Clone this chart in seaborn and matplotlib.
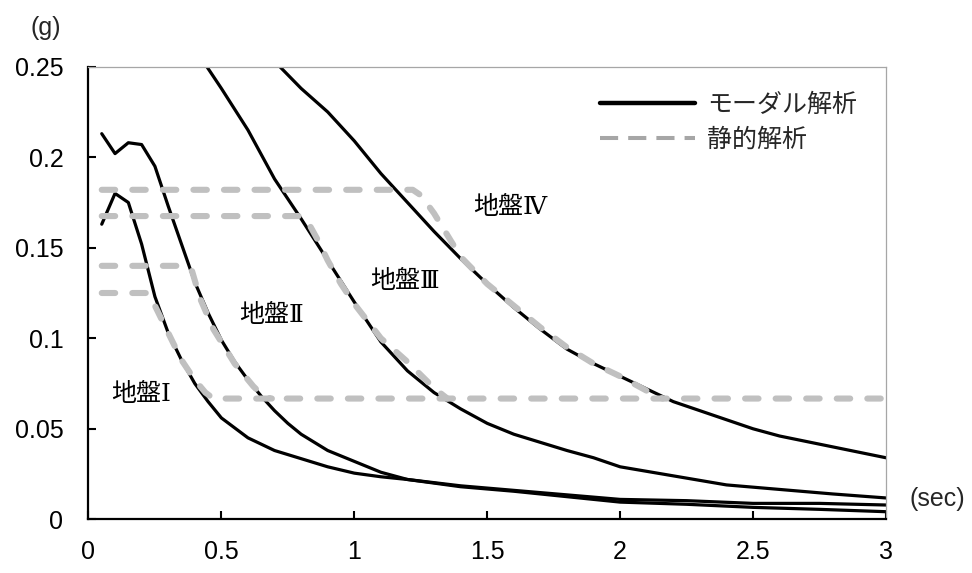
import numpy as np
import pandas as pd
import matplotlib
matplotlib.use("Agg")
import matplotlib.pyplot as plt
from matplotlib.lines import Line2D
import seaborn as sns

# ---- data (period T [sec], response acceleration [g]) ----
ground_labels = ["地盤Ⅰ", "地盤Ⅱ", "地盤Ⅲ", "地盤Ⅳ"]

modal_T_I = [0.05, 0.1, 0.15, 0.2, 0.25, 0.3, 0.35, 0.4, 0.45, 0.5, 0.6, 0.7, 0.8, 0.9, 1.0,
             1.1, 1.2, 1.4, 1.6, 1.8, 2.0, 2.25, 2.5, 2.75, 3.0]
modal_A_I = [0.163, 0.180, 0.175, 0.152, 0.123, 0.103, 0.088, 0.075, 0.065, 0.056, 0.045, 0.038,
             0.0335, 0.029, 0.0255, 0.0235, 0.022, 0.018, 0.0155, 0.0125, 0.0095, 0.0083, 0.0066,
             0.0055, 0.0042]

modal_T_II = [0.05, 0.1, 0.15, 0.2, 0.25, 0.3, 0.35, 0.4, 0.45, 0.5, 0.55, 0.6, 0.65, 0.7, 0.75,
              0.8, 0.9, 1.0, 1.1, 1.2, 1.4, 1.6, 1.8, 2.0, 2.25, 2.5, 2.75, 3.0]
modal_A_II = [0.213, 0.202, 0.208, 0.207, 0.195, 0.173, 0.152, 0.131, 0.114, 0.099, 0.087, 0.077,
              0.068, 0.060, 0.053, 0.047, 0.038, 0.032, 0.026, 0.022, 0.0185, 0.016, 0.0135, 0.011,
              0.0103, 0.0088, 0.0088, 0.0079]

modal_T_III = [0.4, 0.5, 0.6, 0.7, 0.8, 0.9, 1.0, 1.1, 1.2, 1.3, 1.4, 1.5, 1.6, 1.7, 1.8, 1.9,
               2.0, 2.2, 2.4, 2.6, 2.8, 3.0]
modal_A_III = [0.260, 0.238, 0.215, 0.188, 0.166, 0.143, 0.120, 0.098, 0.082, 0.070, 0.061, 0.053,
               0.047, 0.0425, 0.038, 0.034, 0.029, 0.024, 0.019, 0.0165, 0.014, 0.0118]

modal_T_IV = [0.7, 0.8, 0.9, 1.0, 1.1, 1.2, 1.3, 1.4, 1.5, 1.6, 1.7, 1.8, 1.9, 2.0, 2.1, 2.2,
              2.3, 2.4, 2.5, 2.6, 2.7, 2.8, 2.9, 3.0]
modal_A_IV = [0.253, 0.238, 0.225, 0.209, 0.191, 0.175, 0.159, 0.144, 0.130, 0.117, 0.105, 0.094,
              0.086, 0.079, 0.072, 0.065, 0.060, 0.055, 0.050, 0.046, 0.043, 0.040, 0.037, 0.034]

static_T_I = [0.05, 0.22, 0.25, 0.3, 0.35, 0.4, 0.44, 0.47, 3.0]
static_A_I = [0.125, 0.125, 0.118, 0.103, 0.088, 0.077, 0.070, 0.0667, 0.0667]

static_T_II = [0.05, 0.36, 0.39, 0.42, 0.47, 0.55, 0.62, 0.66, 0.69]
static_A_II = [0.14, 0.14, 0.137, 0.122, 0.105, 0.086, 0.0735, 0.0677, 0.0667]

static_T_III = [0.05, 0.8, 0.83, 0.86, 0.9, 0.95, 1.0, 1.1, 1.2, 1.3, 1.35]
static_A_III = [0.1675, 0.1675, 0.163, 0.155, 0.143, 0.130, 0.119, 0.100, 0.087, 0.0725, 0.0667]

static_T_IV = [0.05, 1.22, 1.25, 1.3, 1.35, 1.4, 1.5, 1.6, 1.7, 1.8, 1.9, 2.0, 2.1, 2.16]
static_A_IV = [0.182, 0.182, 0.179, 0.169, 0.157, 0.145, 0.130, 0.118, 0.106, 0.095, 0.086,
               0.079, 0.071, 0.0667]

legend_labels = ["モーダル解析", "静的解析"]
x_ticks = [0, 0.5, 1, 1.5, 2, 2.5, 3]
x_tick_labels = ["0", "0.5", "1", "1.5", "2", "2.5", "3"]
y_ticks = [0, 0.05, 0.1, 0.15, 0.2, 0.25]
y_tick_labels = ["0", "0.05", "0.1", "0.15", "0.2", "0.25"]

# ---- build long-form tables ----
def long_table(pairs):
    frames = []
    for lab, (t, a) in zip(ground_labels, pairs):
        frames.append(pd.DataFrame({"T": t, "A": a, "ground": lab}))
    return pd.concat(frames, ignore_index=True)

modal_df = long_table([(modal_T_I, modal_A_I), (modal_T_II, modal_A_II),
                       (modal_T_III, modal_A_III), (modal_T_IV, modal_A_IV)])
static_df = long_table([(static_T_I, static_A_I), (static_T_II, static_A_II),
                        (static_T_III, static_A_III), (static_T_IV, static_A_IV)])

# ---- style ----
sns.set_theme(style="white")
plt.rcParams["font.family"] = ["Liberation Sans", "Noto Sans CJK JP", "DejaVu Sans"]
JP = ["Noto Sans CJK JP", "DejaVu Sans"]
JP_SERIF_NUM = ["DejaVu Serif", "Noto Sans CJK JP"]
FS = 18

fig = plt.figure(figsize=(9.72, 5.73), dpi=100)
ax = fig.add_axes([0.0910, 0.0937, 0.8205, 0.7899])

sns.lineplot(data=modal_df, x="T", y="A", units="ground", estimator=None, sort=False,
             color="black", linewidth=2.3, ax=ax, legend=False)
sns.lineplot(data=static_df, x="T", y="A", units="ground", estimator=None, sort=False,
             color="#c0c0c0", linewidth=4.4, linestyle=(0, (2.2, 2.8)),
             dash_capstyle="round", ax=ax, legend=False)

ax.set_xlim(0, 3)
ax.set_ylim(0, 0.25)
ax.set_xticks(x_ticks)
ax.set_xticklabels(x_tick_labels)
ax.set_yticks(y_ticks)
ax.set_yticklabels(y_tick_labels)
ax.set_xlabel("")
ax.set_ylabel("")
ax.tick_params(axis="both", direction="in", length=6, width=1.5, color="black",
               labelsize=FS, labelcolor="black")
ax.tick_params(axis="y", pad=18, left=True)
ax.tick_params(axis="x", pad=15, bottom=True)

for side in ["left", "bottom"]:
    ax.spines[side].set_color("black")
    ax.spines[side].set_linewidth(1.6)
for side in ["top", "right"]:
    ax.spines[side].set_visible(True)
    ax.spines[side].set_color("#a6a6a6")
    ax.spines[side].set_linewidth(0.9)

# ground labels
label_pos = [(0.199, 0.0687), (0.690, 0.1128), (1.191, 0.1316), (1.586, 0.172)]
for lab, (lx, ly) in zip(ground_labels, label_pos):
    ax.text(lx, ly, lab, ha="center", va="center", fontsize=FS, family=JP_SERIF_NUM,
            color="black")

# legend
handles = [Line2D([0], [0], color="black", linewidth=3.2),
           Line2D([0], [0], color="#a6a6a6", linewidth=2.9, linestyle=(0, (4.5, 2.5)))]
leg = ax.legend(handles, legend_labels, loc="upper left", bbox_to_anchor=(0.641, 0.945),
                frameon=False, borderpad=0, borderaxespad=0, handlelength=3.8,
                handletextpad=0.5, labelspacing=0.35, prop={"family": JP, "size": FS})

fig.text(0.0473, 0.951, "(g)", ha="center", va="center", fontsize=FS)
fig.text(0.9645, 0.129, "(sec)", ha="center", va="center", fontsize=FS)

fig.savefig("out.png", dpi=100, facecolor="white")
